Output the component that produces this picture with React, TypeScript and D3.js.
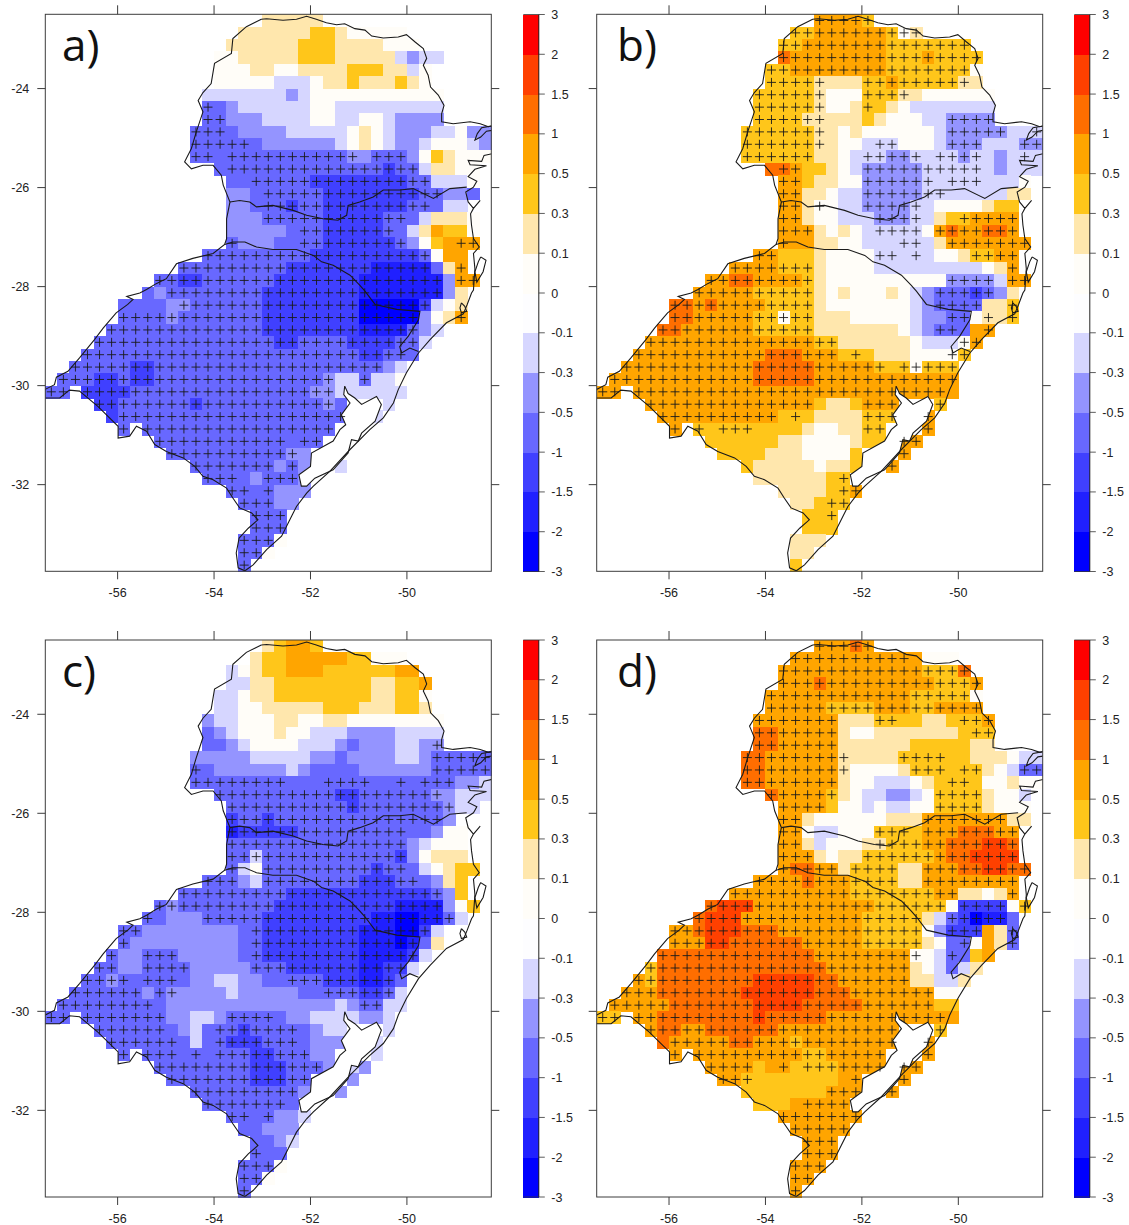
import * as d3 from 'd3';
import React from 'react';

// colour classes, one letter per interval of the colour bar
const barTicks = [-3, -2, -1.5, -1, -0.5, -0.3, -0.1, 0, 0.1, 0.3, 0.5, 1, 1.5, 2, 3];
const barColors = ['#0000ff', '#2020ff', '#4040ff', '#6868ff', '#9494ff', '#d6d6ff', '#fdfdff', '#fffdf8', '#ffe7ad', '#ffc61a', '#ffa500', '#ff6e00', '#ff4000', '#ff0000'];
const classValues: Record<string, number> = {
  a: -2.5, b: -1.75, c: -1.25, d: -0.75, e: -0.4, f: -0.2, g: 0.05, h: 0.2, i: 0.4, j: 0.75, k: 1.25, l: 1.75, m: 2.5,
};

const lonTicks = [-56, -54, -52, -50];
const latTicks = [-24, -26, -28, -30, -32];

// rows north to south, "col+class" starts a run, "." is no data
const colorsA = [
  '18h 23.', '16h 22i 24h 25g 30.', '15h 21i 24h 28g 31.', '14g 16h 21i 24h 29f 30e 31f 33.',
  '14g 17h 19g 21h 25i 28h 30f 31g 32.', '14g 19f 22g 23h 25i 26h 29i 30h 31g 32.', '13f 20e 21f 22g 33.',
  '13d 15e 16f 22g 24f 33.', '13d 15e 18f 22g 24f 26g 28f 29e 33.', '12d 16e 20f 25g 26h 27g 28f 29e 32f 34g 35e',
  '12d 18e 24f 25g 26h 27g 28f 29e 31f 32g 35f 36e', '12d 25e 27d 30e 31g 32i 33h 34g', '14d 28c 29d 31f 32h 34g 36.',
  '15d 22c 30d 32f 35g 36.', '15e 17d 23c 31d 33e 35d 36.', '15e 17d 20c 21d 23c 30d 33f 35.',
  '15e 18d 23c 28d 31f 32h 35g 36.', '15e 20d 23c 28d 30f 31h 32j 33i 35g 36.', '15d 16e 19d 23c 29d 30e 31g 32i 33j 36.',
  '13d 22c 31d 32g 33j 35.', '11d 20c 27b 32d 33h 34j 35.', '9d 11c 13d 19c 26b 33e 34j 36.',
  '8d 9e 10d 18c 26b 33e 34h 35.', '6d 10e 12d 18c 26a 31c 32f 33g 34h 35.', '6d 10e 11d 18c 26a 31e 32g 33h 34j 35.',
  '5d 18c 26b 30d 31e 32f 33.', '4d 19c 21d 25c 29d 31f 32.', '3d 26c 28d 31.', '2d 7c 9d 28e 29f 30.',
  '1d 4c 6d 7c 9d 23e 24f 26d 27f 29g 30.', '0d 2. 3c 7d 22e 24f 30.', '4c 6d 12c 13d 23e 24d 25. 28f 29.',
  '5c 6d 25. 27f 28.', '6d 7. 8d 24.', '9d 23.', '10d 20e 22.', '12d 19e 20d 21e 22. 24f 25.', '13d 17e 18d 21e 22.',
  '15d 19e 22.', '16d 19e 21.', '17d 20.', '17d 20.', '16d 19g 20.', '16d 18g 19.', '16d 17.',
];
const plusA = [
  '', '', '', '', '', '', '', '13', '13-14', '12-14', '12-16', '12-13 15-25 27-29', '15-30', '17-31', '18-32', '18-31', '18-29',
  '21-28', '15 21-29 34-35', '13-31', '11-31 34', '9-32 34-35', '10-32', '11-31', '6-30 34', '5-30', '4-30', '3-29', '2-27',
  '1-23 26', '0-1 3-23', '4-23', '6-24', '6 8-23', '9-19 21-22', '10-20', '12-18 20', '13-15 18-20', '15-16 18', '16-18',
  '17-19', '17-19', '16-18', '16-17', '16',
];

const colorsB = [
  '18j 22i 23.', '16i 18j 24i 25g 26h 27.', '15i 17j 24i 31.', '15k 16j 24i 27j 28i 32.', '14i 16j 24i 31g 32.',
  '14i 18h 22i 24j 25i 30h 32.', '13i 18h 19g 22i 25h 27g 33.', '13i 18h 19g 21h 22i 24h 25g 26f 33.',
  '13i 17h 22i 23h 24g 27f 29e 33.', '12i 18h 20g 21h 22g 28f 29e 34f', '12i 18h 20g 22f 25g 28f 29e 32f 35e',
  '12i 18h 20g 21f 24e 26f 30e 31f 33e 34f', '14k 16j 17i 19h 20g 21f 22e 27f 33e 34f', '15j 17i 18h 20g 22e 27f 35g 36.',
  '15j 17h 19g 20f 22e 27f 34h 36.', '15j 17h 18g 20f 22e 26f 28g 32h 33i 35.', '15j 17h 18g 20f 23e 26f 28h 29i 31j 35.',
  '15j 18h 19g 20h 21g 22f 27g 28j 29k 30j 32k 34j 35.', '15j 18h 20g 22f 28h 29j 36.', '13j 15i 18h 19g 23f 28g 30h 31i 33j 35.',
  '11j 15i 18h 19g 23f 32g 33h 34j 35.', '9j 11k 13j 17i 18h 19g 29e 33f 34j 36.',
  '8j 13i 18h 19g 20h 21g 24h 25g 26f 27e 28d 31c 32d 33e 34h 35.', '6k 8j 9k 10j 14i 18h 19g 26f 27e 28d 32h 34i 35.',
  '6k 8j 13i 15g 16i 18h 21g 26f 27e 29d 31g 32h 34i 35.', '5k 7j 13i 18h 25g 26f 27e 28d 31j 33.',
  '4j 18i 20h 26g 27f 30g 31j 32.', '3j 14k 17j 20i 23h 26g 30i 31.', '2j 13k 18j 23i 26g 27i 30.', '1j 13k 18j 30.',
  '0j 2. 3j 30.', '4j 18i 19h 21i 22j 25. 28i 29.', '5j 15i 18h 22i 25. 27j 28.', '6j 7. 8i 17h 18g 20h 22i 24. 27j 28.',
  '9i 15h 17g 21h 22i 24. 25j 27.', '10i 14h 17g 21i 22. 25j 26.', '12i 13h 18g 19h 21i 22. 24j 25.', '13h 19i 21.',
  '15h 19i 21j 22.', '16h 18i 21.', '17i 20.', '17i 20.', '16h 19.', '16h 18.', '16i 17.',
];
const plusB = [
  '18-22', '16-26', '15-30', '15-31', '14-30', '14-18 22-30', '13-18 22-25', '13-18 22', '13-18 29-32', '12-18 29-33 36',
  '12-18 23-24 29-31 35-36', '12-17 22-26 28-31 35', '15-16 22-31', '15-16 22-27 29-31', '15-16 22-28', '15-16 18 22-26',
  '15-16 23-26 30-34', '15-17 23-26 28-34', '15 25-26 29-35', '13-14 23-24 26 31-34', '11-17 34', '9-17 29-32 34-35',
  '8-17 28-32', '6-17 28-31 34', '6-17 29-30 32 34', '5-17 28-29 32', '4-19 30-31', '3-19 21 29-30', '2-23 25-29', '1-29',
  '0-1 3-28', '4-17 22-24 28', '5-14 16 22-24 27', '6 8 10-12 22-23 27', '25-26', '25', '24', '20', '20-21', '19-20', '19',
  '', '', '', '',
];

const colorsC = [
  '18h 19i 20j 22i 23.', '17h 18i 20j 25i 27g 30.', '15f 16g 17h 18i 20j 23i 29j 31.', '15f 17h 19i 27h 29i 31j 32.',
  '14f 16g 17h 19i 27h 29i 31g 32.', '14f 16g 18h 23i 26h 29i 31h 32.', '13e 14f 16g 19h 21g 23h 25g 33.',
  '13d 14e 15f 16g 19h 20g 22f 25e 29f 33.', '13d 15e 16f 17g 21f 24e 25d 26e 29f 31e 33.', '12e 17f 22e 24d 25e 29f 31e 32d',
  '12d 14e 20f 21e 22d 26e 32d', '12d 34e 36f', '14d 24c 26d 32e 34f', '15d 25c 26d 33e 34f 36.', '15c 16d 18c 19d 33e 34.',
  '15b 16c 21d 32e 33g 35.', '15d 30e 31f 32g 35.', '15d 17f 18d 29c 30e 31g 32h 35.', '15d 16f 17g 18d 27c 28d 31f 32g 33h 34i 36.',
  '13d 16e 17f 18d 26c 29d 32e 33h 34i 35.', '11d 20c 32d 33e 34i 35.', '9d 10e 11d 19c 29b 33e 34g 35i 36.',
  '8d 10e 13d 18c 27b 29a 31b 33d 34f 35.', '6d 8e 16d 18c 26b 29a 31c 32f 33.', '6d 7e 16d 18c 26b 29a 30b 31d 32h 33.',
  '5d 6e 8d 11e 16d 18c 26b 30c 31f 32.', '4d 6e 8d 12e 17d 20c 26b 28c 30f 31.', '3d 5e 6d 12e 14f 16e 18d 23c 26b 28c 29d 30.',
  '2d 8e 9d 10e 15f 16e 21d 26c 28d 29f 30.', '1d 10e 24f 25e 26d 28f 30.', '0d 2. 3d 10e 12f 14e 15d 20e 22f 26e 28f 29.',
  '4d 11e 12f 13d 16c 17d 22e 23f 25. 28f 29.', '5d 12f 13d 15c 18d 22e 25. 27f 28.', '6d 7. 8d 17c 19d 22e 24. 27f 28.',
  '9d 17c 20d 23e 24. 25f 26e 27.', '10d 17c 20d 22. 25e 26.', '12d 21e 22. 24e 25.', '13d 21.', '15d 19e 21f 22.', '16d 18e 21.',
  '17d 19e 20f 21.', '17d 20.', '16d 19g 20.', '16d 18g 19.', '16d 17.',
];
const plusC = [
  '', '', '', '', '', '', '', '', '32', '32-36', '12 32-36', '12-19 23-26 29 31-33', '14-32', '15-33', '15-32', '15-29', '15-29',
  '15-29', '15 18-29', '13-15 18-30', '11-32', '9-32', '8 13-33', '6-7 17-31', '6 17-30', '5 8-10 17-30', '4-5 8-11 17-29',
  '3-6 8-10 20-28', '2-7 9-10 23-28', '1-8 26-27', '0-1 3-9 15-18', '4-9 14-20', '5-10 14-20', '6 8-10 12 14-21', '9-22',
  '10-21', '12-20', '13-19', '15-16 18', '', '', '17', '16-18', '16-17', '16',
];

const colorsD = [
  '18j 21k 22j 23.', '16j 27g 30.', '15j 27i 30k 31.', '15j 18k 19j 28i 31j 32.', '14j 26i 31g 32.', '14j 19i 23j 26i 28j 32.',
  '13j 20h 23i 27h 29i 32j 33.', '13k 15j 20h 21g 23h 30i 33.', '13k 15j 20h 26i 31h 33.', '12k 14j 20h 25i 31h 34g 35f',
  '12k 14j 20h 21g 25h 26i 32h 33g 34f 35d', '12k 14j 20h 21g 23f 26g 27h 28i 32g 34h 35g',
  '14k 15j 19i 20h 21g 22f 24e 26f 27g 28i 32h 33g 35f 36.', '15j 19i 20g 22f 23g 24f 26g 28i 32h 33g 36.',
  '15j 17h 18g 24h 27j 34h 36.', '15j 17g 18f 20g 23i 27j 30k 33j 35.', '15j 17h 18f 19g 22h 24i 27j 29k 32l 34k 35.',
  '15j 18h 19g 20h 22i 28j 29k 31l 35.', '15j 16k 18j 20h 21i 25h 27j 30k 32l 34k 36.', '13j 17k 18j 21i 25h 27j 35.',
  '11j 21i 28j 30h 32g 33h 34j 35.', '9k 10l 13j 23i 29g 30c 34g 35i 36.', '8k 9l 12j 22i 27h 28f 29d 30c 31a 32b 34d 35.',
  '6j 8k 9l 12k 15j 22i 27g 28e 29c 32j 33h 34d 35.', '6j 9l 11k 17j 22i 27h 28g 29d 31g 32j 33h 34d 35.',
  '5k 18j 26g 28f 29d 31i 32j 33.', '4i 5k 19j 26h 27g 28f 29d 30f 31h 32.', '3j 4i 5k 13l 18k 20j 26h 28f 30h 31.',
  '2j 5k 12l 18k 21j 28g 30.', '1j 6k 13l 17k 22j 28i 30.', '0i 2. 3j 5k 13l 14k 19j 30.', '4j 5k 7j 9k 15j 25. 28i 29.',
  '5k 6j 11k 13j 16i 17j 25. 27j 28.', '6j 7. 8j 17i 19j 24. 27j 28.', '9j 13i 14j 16i 20j 24. 25j 27.', '10j 12i 20j 22. 25j 26.',
  '12i 19j 22. 24j 25.', '13i 16j 21.', '15j 22.', '16j 21.', '17j 20.', '17j 20.', '16j 19.', '16j 18.', '16j 17.',
];
const plusD = [
  '18-22', '16-25', '15-30', '15-31', '14-30', '14-31', '13-19 23-24 30-32', '13-19 31-32', '13-19', '12-20 25-28',
  '12-20 26-28 30-31 35-36', '12-19 29-30', '14-19 28-31', '15-18 28-31', '15-16 27-33', '15-16 23-25 27-34', '15-16 23-34',
  '15-17 22-34', '15-19 21-24 27-35', '13-24 27-34', '11-29 34', '9-28 30-33 35', '8-26 29-33', '6-26 29-31 34', '6-26 30 34',
  '5-26 29', '4-25', '3-25', '2-27', '1-27', '0-1 3-28', '4-24 28', '6-24 27', '6 8-23 27', '9-12 15 17-23 25-26', '10-12 21 25',
  '19-21 24', '17-20', '15-21', '16-20', '17-19', '17-19', '16-18', '16-17', '16',
];

// coast and state lines, lon/lat
const outline: [number, number][] = [
  [-53.02, -22.6], [-52.91, -22.59], [-52.57, -22.62], [-52.29, -22.6], [-52.08, -22.54], [-51.88, -22.6], [-51.67, -22.67],
  [-51.46, -22.71], [-51.29, -22.69], [-51.08, -22.79], [-50.87, -22.82], [-50.73, -22.94], [-50.49, -22.98], [-50.18, -22.96],
  [-50.01, -22.91], [-49.83, -23.06], [-49.66, -23.19], [-49.59, -23.39], [-49.66, -23.53], [-49.56, -23.73], [-49.51, -23.97],
  [-49.35, -24.13], [-49.23, -24.34], [-49.28, -24.51], [-49.28, -24.67], [-49.04, -24.71], [-48.69, -24.67], [-48.48, -24.71],
  [-48.31, -24.77], [-48.21, -24.75], [-48.21, -25.31], [-48.4, -25.35], [-48.45, -25.47], [-48.73, -25.45], [-48.69, -25.54],
  [-48.35, -25.56], [-48.59, -25.63], [-48.73, -25.78], [-48.55, -25.87], [-48.62, -25.99], [-48.78, -26.09], [-48.73, -26.29],
  [-48.62, -26.42], [-48.48, -26.26], [-48.62, -26.42], [-48.68, -26.53], [-48.66, -26.76], [-48.62, -27.03], [-48.5, -27.2],
  [-48.62, -27.33], [-48.59, -27.64], [-48.62, -28.07], [-48.66, -28.13], [-48.75, -28.36], [-48.83, -28.55], [-49.18, -28.73],
  [-49.52, -29.07], [-49.76, -29.34], [-50.01, -29.74], [-50.18, -30.08], [-50.28, -30.35], [-50.49, -30.65], [-50.77, -30.89],
  [-51.18, -31.29], [-51.6, -31.73], [-51.94, -32.03], [-52.08, -32.17], [-52.29, -32.44], [-52.46, -32.77], [-52.6, -33.04],
  [-52.91, -33.31], [-53.19, -33.62], [-53.36, -33.74], [-53.5, -33.68], [-53.54, -33.38], [-53.48, -33.08], [-53.29, -32.88],
  [-53.09, -32.71], [-53.22, -32.57], [-53.47, -32.47], [-53.61, -32.27], [-53.74, -32.07], [-54.02, -31.9], [-54.23, -31.83],
  [-54.4, -31.63], [-54.64, -31.46], [-54.99, -31.33], [-55.23, -31.19], [-55.4, -30.92], [-55.61, -30.82], [-55.75, -31.02],
  [-55.99, -31.06], [-55.99, -30.82], [-56.41, -30.42], [-56.79, -30.11], [-57.0, -30.09], [-57.2, -30.25], [-57.51, -30.25],
  [-57.69, -30.25], [-57.69, -30.08], [-57.51, -30.08], [-57.31, -29.98], [-57.27, -29.83], [-57.03, -29.71], [-56.79, -29.44],
  [-56.48, -29.07], [-56.3, -28.84], [-56.03, -28.53], [-55.79, -28.36], [-55.68, -28.26], [-55.81, -28.2], [-55.54, -28.13],
  [-55.4, -28.06], [-55.2, -27.94], [-54.99, -27.84], [-54.78, -27.54], [-54.44, -27.43], [-54.02, -27.33], [-53.78, -27.15],
  [-53.74, -27.03], [-53.74, -26.63], [-53.67, -26.29], [-53.81, -25.95], [-53.85, -25.75], [-54.02, -25.55], [-54.23, -25.55],
  [-54.47, -25.62], [-54.61, -25.48], [-54.47, -25.21], [-54.37, -24.88], [-54.23, -24.47], [-54.33, -24.24], [-54.23, -24.08],
  [-54.06, -23.9], [-53.99, -23.49], [-53.64, -23.29], [-53.61, -22.99], [-53.33, -22.75], [-53.02, -22.6],
];
const borderPrSc: [number, number][] = [
  [-53.67, -26.29], [-53.47, -26.26], [-53.26, -26.29], [-53.12, -26.39], [-52.78, -26.36], [-52.36, -26.46], [-52.08, -26.56],
  [-51.74, -26.63], [-51.43, -26.66], [-51.25, -26.56], [-51.22, -26.36], [-50.98, -26.29], [-50.7, -26.19], [-50.49, -26.05],
  [-50.15, -26.05], [-49.87, -26.02], [-49.45, -26.22], [-49.11, -26.02], [-48.76, -25.99],
];
const borderScRs: [number, number][] = [
  [-53.78, -27.15], [-53.61, -27.1], [-53.36, -27.1], [-53.12, -27.2], [-52.78, -27.25], [-52.29, -27.25], [-51.94, -27.37],
  [-51.77, -27.5], [-51.53, -27.57], [-51.18, -27.77], [-50.98, -27.97], [-50.87, -28.09], [-50.66, -28.36], [-50.21, -28.46],
  [-49.73, -28.5], [-49.76, -28.67], [-49.97, -29.0], [-50.15, -29.21], [-50.11, -29.34], [-49.94, -29.24], [-49.76, -29.31],
];
const lagoon: [number, number][] = [
  [-51.29, -30.01], [-51.22, -30.16], [-51.08, -30.25], [-50.94, -30.38], [-50.63, -30.22], [-50.53, -30.38], [-50.66, -30.72],
  [-50.94, -30.96], [-51.01, -31.12], [-51.15, -31.09], [-51.22, -31.36], [-51.53, -31.7], [-51.91, -31.87], [-52.08, -32.03],
  [-52.19, -32.03], [-52.24, -31.8], [-52.0, -31.63], [-51.98, -31.36], [-51.53, -31.12], [-51.39, -30.89], [-51.27, -30.79],
  [-51.36, -30.59], [-51.18, -30.35], [-51.31, -30.18], [-51.29, -30.01],
];
const island: [number, number][] = [
  [-48.47, -27.4], [-48.36, -27.47], [-48.42, -27.7], [-48.55, -27.91], [-48.59, -27.7], [-48.52, -27.5], [-48.47, -27.4],
];
const southLake: [number, number][] = [
  [-48.87, -28.33], [-48.8, -28.4], [-48.76, -28.5], [-48.87, -28.53], [-48.9, -28.43], [-48.87, -28.33],
];
const paranaguaBay: [number, number][] = [
  [-48.21, -24.75], [-48.45, -24.79], [-48.54, -24.91], [-48.59, -25.04], [-48.47, -24.98], [-48.35, -24.86], [-48.21, -24.84],
];
const mapLines = [outline, borderPrSc, borderScRs, lagoon, island, southLake, paranaguaBay];

const lonStart = -57.5;
const latStart = -22.5;
const step = 0.25;
const lonDomain: [number, number] = [-57.5, -48.25];
const latDomain: [number, number] = [-33.75, -22.5];
const nCols = 37;

const colorScale = d3.scaleThreshold<number, string>()
  .domain(barTicks.slice(1, -1))
  .range(barColors);

function parseRow(row: string) {
  const cells: { col: number; value: number }[] = [];
  const runs = row.split(' ').map(tok => ({ col: parseInt(tok, 10), cls: tok.slice(-1) }));
  runs.forEach((run, i) => {
    if (run.cls === '.') return;
    const end = i + 1 < runs.length ? runs[i + 1].col : nCols;
    d3.range(run.col, end).forEach(col => cells.push({ col, value: classValues[run.cls] }));
  });
  return cells;
}

function parsePlus(row: string) {
  if (!row) return [];
  return row.split(' ').flatMap(part => {
    const [a, b] = part.split('-').map(Number);
    return b === undefined ? [a] : d3.range(a, b + 1);
  });
}

const inkColor = '#3c3c3c';
const labelFont = { fontFamily: '"Liberation Sans", Arial, sans-serif', fontSize: 12.5, fill: '#222' };

function MapPanel({ left, top, letter, letterX, colors, plus, showLat }: any) {
  const width = 446;
  const height = 557;
  const x = d3.scaleLinear().domain(lonDomain).range([left, left + width]);
  const y = d3.scaleLinear().domain(latDomain).range([top + height, top]);
  const line = d3.line<[number, number]>().x(d => x(d[0])).y(d => y(d[1]));
  const clipId = `clip-${letter.charAt(0)}`;
  const cellW = x(lonStart + step) - x(lonStart);
  const cellH = y(latStart - step) - y(latStart);

  return (
    <g>
      <defs>
        <clipPath id={clipId}>
          <rect x={left} y={top} width={width} height={height} />
        </clipPath>
      </defs>
      <g shapeRendering="crispEdges">
        {colors.map((row: string, r: number) => parseRow(row).map(cell => (
          <rect
            key={`${r}-${cell.col}`}
            x={x(lonStart + cell.col * step)}
            y={y(latStart - r * step)}
            width={cellW + 0.5}
            height={cellH + 0.5}
            fill={colorScale(cell.value)}
          />
        )))}
      </g>
      <g clipPath={`url(#${clipId})`} fill="none" stroke="#1a1a1a" strokeWidth={1.1}>
        <path d={line(lagoon) + 'Z'} fill="#fff" stroke="none" />
        {mapLines.map((pts, i) => <path key={i} d={line(pts) as string} />)}
      </g>
      <g stroke="#1a1a1a" strokeWidth={0.9}>
        {plus.map((row: string, r: number) => parsePlus(row).map(col => {
          const cx = x(lonStart + (col + 0.5) * step);
          const cy = y(latStart - (r + 0.5) * step);
          return (
            <path key={`${r}-${col}`} d={`M${cx - 4.5},${cy}H${cx + 4.5}M${cx},${cy - 4.5}V${cy + 4.5}`} />
          );
        }))}
      </g>
      <rect x={left} y={top} width={width} height={height} fill="none" stroke={inkColor} strokeWidth={1} />
      <g stroke={inkColor} strokeWidth={1}>
        {lonTicks.map(t => (
          <g key={t}>
            <line x1={x(t)} x2={x(t)} y1={top} y2={top - 9} />
            <line x1={x(t)} x2={x(t)} y1={top + height} y2={top + height + 8} />
          </g>
        ))}
        {latTicks.map(t => (
          <g key={t}>
            <line x1={left} x2={left - 8} y1={y(t)} y2={y(t)} />
            <line x1={left + width} x2={left + width + 8} y1={y(t)} y2={y(t)} />
          </g>
        ))}
      </g>
      {lonTicks.map(t => (
        <text key={t} x={x(t)} y={top + height + 26} textAnchor="middle" {...labelFont}>{t}</text>
      ))}
      {showLat && latTicks.map(t => (
        <text key={t} x={left - 16} y={y(t) + 4.5} textAnchor="end" {...labelFont}>{t}</text>
      ))}
      <text x={letterX} y={top + 47} fontFamily='"Open Sans", sans-serif' fontSize={44} fill="#111">{letter}</text>
    </g>
  );
}

function ColorBar({ left, top }: any) {
  const width = 15.5;
  const height = 557;
  const y = d3.scalePoint<string>()
    .domain(barTicks.map(String))
    .range([top + height, top]);
  return (
    <g>
      <g shapeRendering="crispEdges">
        {barColors.map((c, i) => {
          const y0 = y(String(barTicks[i])) as number;
          const y1 = y(String(barTicks[i + 1])) as number;
          return <rect key={c} x={left} y={y1} width={width} height={y0 - y1 + 0.5} fill={c} />;
        })}
      </g>
      <line x1={left + width} x2={left + width} y1={top} y2={top + height} stroke="#222" />
      {barTicks.map((t, i) => {
        const ty = y(String(t)) as number;
        const isEnd = i === 0 || i === barTicks.length - 1;
        return (
          <g key={t}>
            <line x1={isEnd ? left : left + width} x2={left + width + 6} y1={ty} y2={ty} stroke="#333" strokeWidth={0.8} />
            <text x={left + width + 12.5} y={ty + 4.5} {...labelFont}>{t}</text>
          </g>
        );
      })}
    </g>
  );
}

export default function App() {
  return (
    <svg width={1129} height={1225} style={{ position: 'absolute', left: 0, top: 0, background: '#fff' }}>
      <MapPanel left={45.3} top={14.3} letter="a)" letterX={62} colors={colorsA} plus={plusA} showLat />
      <ColorBar left={523.3} top={14.5} />
      <MapPanel left={596.7} top={14.3} letter="b)" letterX={617} colors={colorsB} plus={plusB} showLat={false} />
      <ColorBar left={1074.3} top={14.5} />
      <MapPanel left={45.3} top={640} letter="c)" letterX={62} colors={colorsC} plus={plusC} showLat />
      <ColorBar left={523.3} top={640} />
      <MapPanel left={596.7} top={640} letter="d)" letterX={617} colors={colorsD} plus={plusD} showLat={false} />
      <ColorBar left={1074.3} top={640} />
    </svg>
  );
}
